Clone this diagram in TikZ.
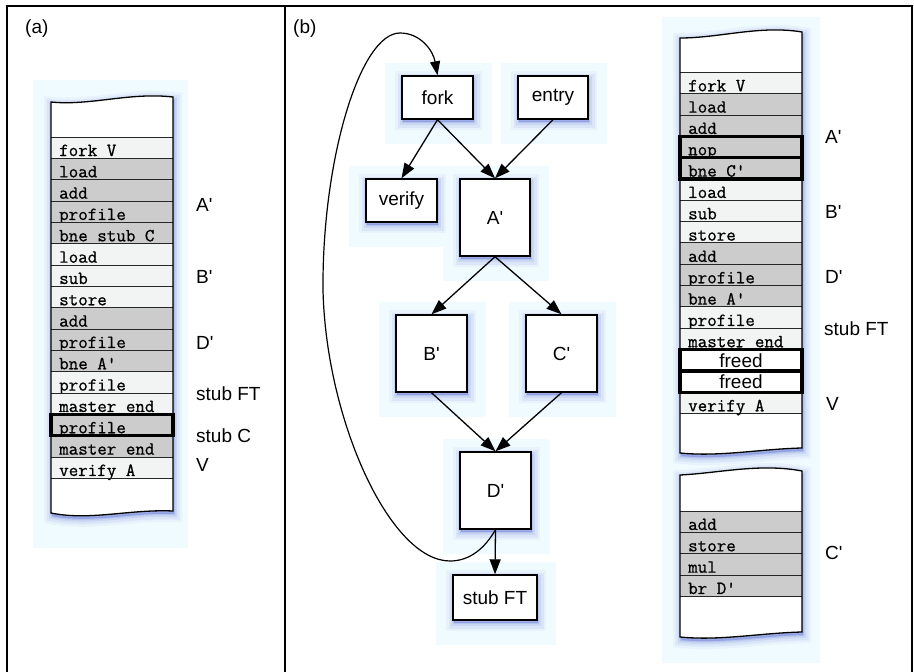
\documentclass[tikz,border=0pt]{standalone}
\usepackage{fontspec}
\setmainfont{Liberation Sans}[Ligatures=TeXOff]
\setmonofont{Latin Modern Mono}[FakeBold=0.8]
\usetikzlibrary{arrows.meta,calc}
\definecolor{glowc}{HTML}{F0FBFF}
\definecolor{shb}{RGB}{90,110,215}
\definecolor{rowdk}{HTML}{CCCCCC}
\definecolor{rowlt}{HTML}{F2F3F3}
\pgfdeclarelayer{bg}
\pgfsetlayers{bg,main}
\tikzset{
  sans/.style={font=\fontsize{19}{19}\selectfont},
  mono/.style={font=\fontsize{18.5}{18.5}\selectfont\ttfamily},
  blurshadow/.style={
    preaction={draw=shb, fill=shb, line width=16pt, opacity=0.06, transform canvas={xshift=1pt,yshift=-3pt}},
    preaction={draw=shb, fill=shb, line width=11pt, opacity=0.09, transform canvas={xshift=1pt,yshift=-3pt}},
    preaction={draw=shb, fill=shb, line width=6pt, opacity=0.12, transform canvas={xshift=1pt,yshift=-3pt}},
    preaction={draw=shb, fill=shb, line width=2.5pt, opacity=0.18, transform canvas={xshift=1pt,yshift=-3pt}}},
  gbox/.style={draw, line width=1.4pt, fill=white, inner sep=0pt, sans, blurshadow},
  edge/.style={line width=1.3pt, -{Triangle[length=15pt,width=11pt]}},
  rowline/.style={line width=0.9pt, black!85},
  thickbox/.style={line width=3.5pt},
  lab/.style={sans, anchor=base west, inner sep=0pt},
  rowtext/.style={mono, anchor=base west, inner sep=0pt},
  coloutline/.style={line width=1.3pt}
}
\def\colA{(51,102) .. controls (90,106) and (130,92) .. (173,97) -- (173,511) .. controls (130,509) and (90,521) .. (51,513) -- cycle}
\def\colB{(680,38) .. controls (720,38) and (760,25) .. (802,32) -- (802,448) .. controls (760,449) and (720,457) .. (680,453) -- cycle}
\def\colC{(680,475) .. controls (720,473) and (760,463) .. (802,471) -- (802,632) .. controls (760,633) and (720,641) .. (680,637) -- cycle}
\begin{document}
\begin{tikzpicture}[x=1pt,y=-1pt]
\useasboundingbox (0,0) rectangle (914,672);
% frame
\draw[line width=1.3pt] (7,672) -- (7,6) -- (912,6) -- (912,672);
\draw[line width=1.3pt] (285,6) -- (285,672);
\node[lab] (pa) at (25,33) {(a)};
\node[lab] (pb) at (293,33) {(b)};

% ---------- graph nodes ----------
\node[gbox, minimum width=71pt, minimum height=43pt] (fork) at (437.5,97.5) {fork};
\node[gbox, minimum width=70pt, minimum height=43pt] (entry) at (553,97.5) {entry};
\node[gbox, minimum width=71pt, minimum height=43pt] (verify) at (401.5,200.5) {verify};
\node[gbox, minimum width=70pt, minimum height=77pt] (A) at (495,217.5) {A'};
\node[gbox, minimum width=71pt, minimum height=77pt] (B) at (431.5,353.5) {B'};
\node[gbox, minimum width=71pt, minimum height=77pt] (C) at (561.5,353.5) {C'};
\node[gbox, minimum width=71pt, minimum height=77pt] (D) at (495.5,490.5) {D'};
\node[gbox, minimum width=84pt, minimum height=45pt] (stub) at (495,597.5) {stub FT};

\begin{pgfonlayer}{bg}
  \fill[glowc] (33,80) rectangle (188,548);
  \fill[glowc] (662,17) rectangle (820,663);
  \foreach \n in {fork,entry,verify,A,B,C,D,stub}
    \fill[glowc] ($(\n.north west)+(-16,-12)$) rectangle ($(\n.south east)+(18,24)$);
\end{pgfonlayer}

\draw[edge] (fork.south) -- (verify.north);
\draw[edge] (fork.south) -- (A.north);
\draw[edge] (entry.south) -- (A.north);
\draw[edge] (A.south) -- (B.north);
\draw[edge] (A.south) -- (C.north);
\draw[edge] (B.south) -- (D.north);
\draw[edge] (C.south) -- (D.north);
\draw[edge] (D.south) -- (stub.north);
\draw[line width=1.2pt, -{Triangle[length=14pt,width=10pt]}] (D.south)
  .. controls (485,548) and (470,561) .. (450,561)
  .. controls (390,561) and (326,420) .. (323,290)
  .. controls (322,160) and (360,33) .. (400,33)
  .. controls (420,33) and (433,50) .. (fork.north);

% ---------- column (a) ----------
\path[blurshadow, fill=white] \colA;
\foreach \t/\c [count=\i from 0] in {fork V/rowlt, load/rowdk, add/rowdk, profile/rowdk, bne stub C/rowdk, load/rowlt, sub/rowlt, store/rowlt, add/rowdk, profile/rowdk, bne A'/rowdk, profile/rowlt, master end/rowlt, profile/rowdk, master end/rowdk, verify A/rowlt}{
  \fill[\c] (51,137+\i*21.33) rectangle (173,137+\i*21.33+21.33);
  \draw[rowline] (51,137+\i*21.33) -- (173,137+\i*21.33);
  \node[rowtext] (a\i) at (59,137+\i*21.33+19) {\t};
}
\draw[rowline] (51,478.3) -- (173,478.3);
\draw[coloutline] \colA;
\draw[thickbox] (51,414.3) rectangle (173,435.6);
\node[lab] (laA) at (196,211.7) {A'};
\node[lab] (laB) at (196,283.3) {B'};
\node[lab] (laD) at (196,349.3) {D'};
\node[lab] (laFT) at (196,400) {stub FT};
\node[lab] (laC) at (196,442.7) {stub C};
\node[lab] (laV) at (196,471.7) {V};

% ---------- column (b) upper ----------
\path[blurshadow, fill=white] \colB;
\path[blurshadow, fill=white] \colC;
\foreach \t/\c [count=\i from 0] in {fork V/rowlt, load/rowdk, add/rowdk, nop/rowdk, bne C'/rowdk, load/rowlt, sub/rowlt, store/rowlt, add/rowdk, profile/rowdk, bne A'/rowdk, profile/rowlt, master end/rowlt}{
  \fill[\c] (680,72.3+\i*21.33) rectangle (802,72.3+\i*21.33+21.33);
  \draw[rowline] (680,72.3+\i*21.33) -- (802,72.3+\i*21.33);
  \node[rowtext] (b\i) at (688,72.3+\i*21.33+19) {\t};
}
\fill[rowlt] (680,392.3) rectangle (802,413.6);
\draw[rowline] (680,392.3) -- (802,392.3);
\draw[rowline] (680,413.6) -- (802,413.6);
\node[rowtext] (b15) at (688,392.3+19) {verify A};
\node[sans, anchor=base, inner sep=0pt] (fr1) at (741,349.6+18) {freed};
\node[sans, anchor=base, inner sep=0pt] (fr2) at (741,370.9+18) {freed};
\draw[coloutline] \colB;
\draw[thickbox] (680,136.3) rectangle (802,157.6);
\draw[thickbox] (680,157.6) rectangle (802,178.9);
\draw[thickbox] (680,349.6) rectangle (802,370.9);
\draw[thickbox] (680,370.9) rectangle (802,392.3);
\node[lab] (lbA) at (825,143.3) {A'};
\node[lab] (lbB) at (825,218.3) {B'};
\node[lab] (lbD) at (825,283.3) {D'};
\node[lab] (lbFT) at (824,335) {stub FT};
\node[lab] (lbV) at (826,410) {V};

% ---------- column (b) lower ----------
\foreach \t [count=\i from 0] in {add, store, mul, br D'}{
  \fill[rowdk] (680,511+\i*21.33) rectangle (802,511+\i*21.33+21.33);
  \draw[rowline] (680,511+\i*21.33) -- (802,511+\i*21.33);
  \node[rowtext] (c\i) at (688,511+\i*21.33+19) {\t};
}
\draw[rowline] (680,596.3) -- (802,596.3);
\draw[coloutline] \colC;
\node[lab] (lcC) at (825,559) {C'};
\end{tikzpicture}
\end{document}
